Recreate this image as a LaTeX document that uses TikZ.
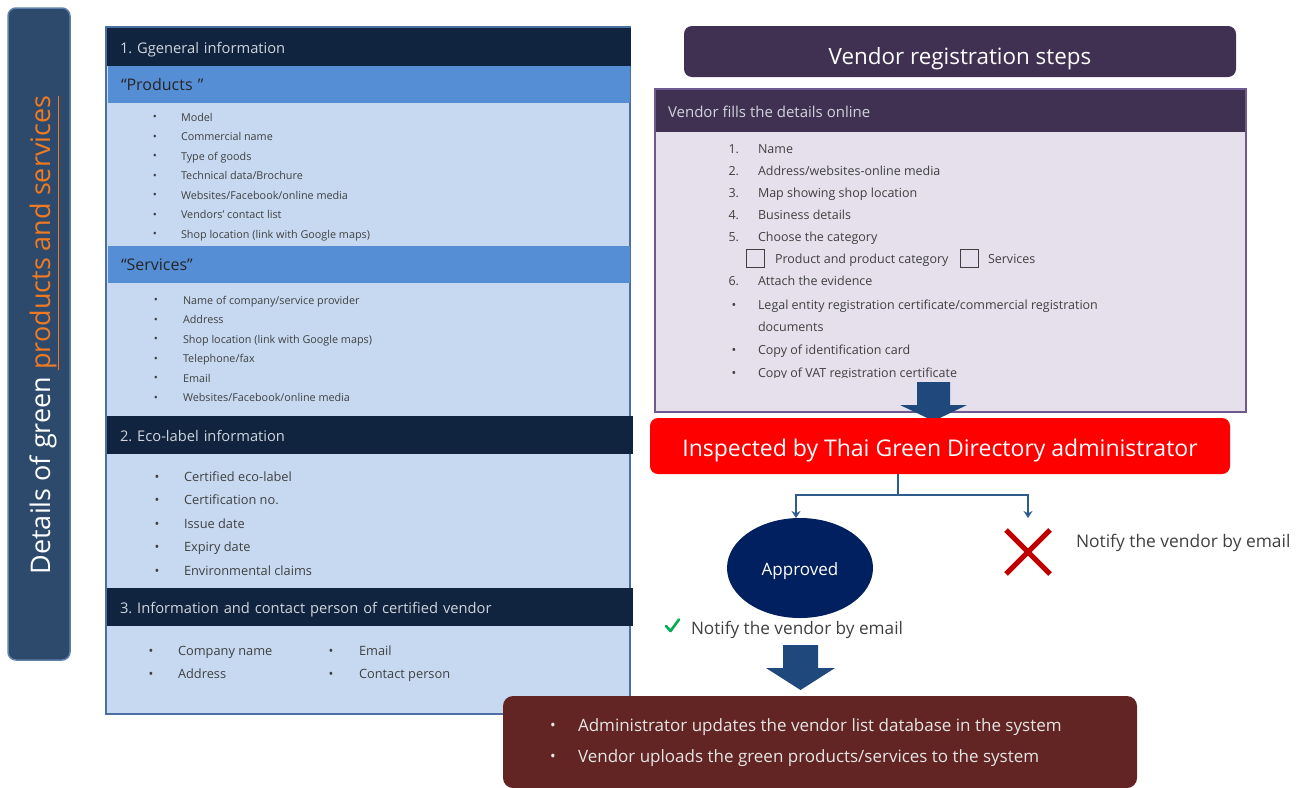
\documentclass[tikz,border=0pt]{standalone}
\usepackage{fontspec}
\setmainfont{Open Sans}
\usetikzlibrary{arrows.meta,shapes.geometric}
\definecolor{barblue}{HTML}{2D4A6D}
\definecolor{barborder}{HTML}{5F80A8}
\definecolor{orng}{HTML}{F07A22}
\definecolor{navy}{HTML}{10243F}
\definecolor{lightblue}{HTML}{C6D9F1}
\definecolor{bandblue}{HTML}{558ED5}
\definecolor{panelborder}{HTML}{4A6FA0}
\definecolor{purp}{HTML}{403152}
\definecolor{purpborder}{HTML}{6E5A90}
\definecolor{lavender}{HTML}{E5E0EC}
\definecolor{arrowblue}{HTML}{1F497D}
\definecolor{connblue}{HTML}{2E5C8C}
\definecolor{ellnavy}{HTML}{002060}
\definecolor{crossred}{HTML}{C00000}
\definecolor{maroon}{HTML}{632523}
\definecolor{checkgreen}{HTML}{00B050}
\definecolor{txtgray}{HTML}{404040}
\definecolor{hdrtxt}{HTML}{D0D4DC}
\newcommand{\fsz}[1]{\fontsize{#1pt}{#1pt}\selectfont}
\frenchspacing
\begin{document}
\begin{tikzpicture}[x=1pt,y=-1pt,
  every node/.style={inner sep=0pt, outer sep=0pt},
  hdrbar/.style={fill=navy, minimum height=38, text width=498, inner xsep=13, align=left, text=hdrtxt, font={\fsz{14.7}}, text height=13.6pt, text depth=0pt, anchor=north west},
  bandbar/.style={fill=bandblue, minimum height=37, text width=496, inner xsep=13, align=left, text=black!85, font={\fsz{16}}, text height=12.4pt, text depth=0pt, anchor=north west},
  bul/.style={text=txtgray, anchor=center},
  itemtxt/.style={text=txtgray, anchor=west, text height=1.5ex, text depth=.25ex},
  vitem/.style={text=txtgray, anchor=west, text height=1.5ex, text depth=.25ex, font={\fsz{12.5}}},
  vnum/.style={text=txtgray, anchor=east, text height=1.5ex, text depth=.25ex, font={\fsz{12.5}}},
  conn/.style={draw=connblue, line width=2.6pt, -{Stealth[length=7pt,width=9pt]}}
]
\useasboundingbox (0,0) rectangle (1303,787);

% ---------- left vertical bar ----------
\node[draw=barborder, line width=1.5pt, fill=barblue, rounded corners=8pt,
      minimum width=62, minimum height=652] (bar) at (39,334) {};
\node[rotate=90, text=white, font={\fsz{27}}] (bartext) at (44,335)
  {Details of green \textcolor{orng}{\underline{products and services}}};

% ---------- left panel ----------
\node[draw=panelborder, line width=2pt, fill=lightblue, minimum width=524,
      minimum height=687, anchor=north west] (panel) at (106,27) {};
\node[hdrbar] (h1) at (107,28) {1. Ggeneral information};
\node[bandbar] (b1) at (108,66) {“Products ”};
\foreach \t [count=\i from 0] in {Model,Commercial name,Type of goods,Technical data/Brochure,Websites/Facebook/online media,Vendors’ contact list,Shop location (link with Google maps)}{
  \node[bul, font={\fsz{10.8}}] (pb\i) at (155,118+\i*19.5) {\textbullet};
  \node[itemtxt, font={\fsz{10.8}}] (pt\i) at (181,118+\i*19.5) {\t};
}
\node[bandbar] (b2) at (108,246) {“Services”};
\foreach \t [count=\i from 0] in {Name of company/service provider,Address,Shop location (link with Google maps),Telephone/fax,Email,Websites/Facebook/online media}{
  \node[bul, font={\fsz{10.8}}] (sb\i) at (156,301+\i*19.5) {\textbullet};
  \node[itemtxt, font={\fsz{10.8}}] (st\i) at (183,301+\i*19.5) {\t};
}
\node[hdrbar, text width=500] (h2) at (107,416) {2. Eco-label information};
\foreach \t [count=\i from 0] in {Certified eco-label,Certification no.,Issue date,Expiry date,Environmental claims}{
  \node[bul, font={\fsz{12.8}}] (eb\i) at (157,478+\i*23.5) {\textbullet};
  \node[itemtxt, font={\fsz{12.8}}] (et\i) at (184,478+\i*23.5) {\t};
}
\node[hdrbar, text width=500] (h3) at (107,588) {3. Information and contact person of certified vendor};
\node[bul, font={\fsz{12.8}}] (cb0) at (151,652) {\textbullet};
\node[itemtxt, font={\fsz{12.8}}] (ct0) at (178,652) {Company name};
\node[bul, font={\fsz{12.8}}] (cb1) at (151,675) {\textbullet};
\node[itemtxt, font={\fsz{12.8}}] (ct1) at (178,675) {Address};
\node[bul, font={\fsz{12.8}}] (cb2) at (331,652) {\textbullet};
\node[itemtxt, font={\fsz{12.8}}] (ct2) at (359,652) {Email};
\node[bul, font={\fsz{12.8}}] (cb3) at (331,675) {\textbullet};
\node[itemtxt, font={\fsz{12.8}}] (ct3) at (359,675) {Contact person};

% ---------- right: title ----------
\node[fill=purp, rounded corners=8pt, minimum width=552, minimum height=51] (title) at (960,51.5) {};
\node[text=white, font={\fsz{22.4}}] (titletext) at (960,59) {Vendor registration steps};

% ---------- vendor fills box ----------
\node[draw=purpborder, line width=2pt, fill=lavender, minimum width=591,
      minimum height=323, anchor=north west] (vbox) at (655,89) {};
\node[fill=purp, minimum width=589, minimum height=42, anchor=north west] (vhdr) at (656,90) {};
\node[text=hdrtxt, anchor=west, font={\fsz{15}}] (vhdrtext) at (668,112) {Vendor fills the details online};
\foreach \t [count=\i] in {Name,Address/websites-online media,Map showing shop location,Business details,Choose the category}{
  \node[vnum] (vn\i) at (739,128+\i*22) {\i.};
  \node[vitem] (vt\i) at (758,128+\i*22) {\t};
}
\node[draw=black!75, line width=1pt, minimum size=18] (chk1) at (755,258) {};
\node[vitem] (chk1t) at (775,260) {Product and product category};
\node[draw=black!75, line width=1pt, minimum size=18] (chk2) at (969.5,258) {};
\node[vitem] (chk2t) at (988,260) {Services};
\node[vnum] (vn6) at (739,282) {6.};
\node[vitem] (vt6) at (758,282) {Attach the evidence};
\node[bul, font={\fsz{12.5}}] (vb1) at (734,306) {\textbullet};
\node[vitem] (vb1t) at (758,306) {Legal entity registration certificate/commercial registration};
\node[vitem] (vb1u) at (758,328) {documents};
\node[bul, font={\fsz{12.5}}] (vb2) at (734,351) {\textbullet};
\node[vitem] (vb2t) at (758,351) {Copy of identification card};
\begin{scope}
  \clip (656,360) rectangle (1245,377.5);
  \node[bul, font={\fsz{12.5}}] (vb3) at (734,374) {\textbullet};
  \node[vitem] (vb3t) at (758,374) {Copy of VAT registration certificate};
\end{scope}

% ---------- block arrow 1 ----------
\fill[arrowblue] (917,382) -- (950,382) -- (950,405) -- (967,405) -- (933.5,421)
  -- (900,405) -- (917,405) -- cycle;

% ---------- inspected box ----------
\node[fill=red, rounded corners=8pt, minimum width=580, minimum height=56] (insp) at (940,446) {};
\node[text=white, font={\fsz{23}}] (insptext) at (940,451) {Inspected by Thai Green Directory administrator};

% ---------- approved / rejected ----------
\node[ellipse, fill=ellnavy, minimum width=146, minimum height=100] (appr) at (800,568) {};
\node[text=white, font={\fsz{17}}] (apprlbl) at (800,571) {Approved};
\node[minimum width=44, minimum height=44] (rej) at (1028,552) {};
\draw[crossred, line width=5pt] (rej.north west) -- (rej.south east);
\draw[crossred, line width=5pt] (rej.north east) -- (rej.south west);
\coordinate (split) at (898,495);
\draw[draw=connblue, line width=2.6pt] (insp.south -| split) -- (split);
\draw[conn] (split) -| ([xshift=-4]appr.north);
\draw[conn, shorten >=12pt] (split) -| (rej.north);
\node[text=txtgray, anchor=west, font={\fsz{17.4}}] (rejtext) at (1076,543) {Notify the vendor by email};

\draw[checkgreen, line width=2.6pt, line cap=round, line join=round] (666,626) -- (670.5,631) -- (679,619.5);
\node[text=txtgray, anchor=west, font={\fsz{17.2}}] (apprtext) at (691,630) {Notify the vendor by email};

% ---------- block arrow 2 ----------
\fill[arrowblue] (783,645) -- (818,645) -- (818,668) -- (835,668) -- (800.5,690)
  -- (766,668) -- (783,668) -- cycle;

% ---------- bottom box ----------
\node[fill=maroon, rounded corners=10pt, minimum width=634, minimum height=92, anchor=north west] (final) at (503,696) {};
\node[text=white!90!black, anchor=center, font={\fsz{15}}] (fb1) at (553,727) {\textbullet};
\node[text=white!90!black, anchor=west, font={\fsz{17}}, text height=1.5ex, text depth=.25ex] (ft1) at (578,728) {Administrator updates the vendor list database in the system};
\node[text=white!90!black, anchor=center, font={\fsz{15}}] (fb2) at (553,758) {\textbullet};
\node[text=white!90!black, anchor=west, font={\fsz{17}}, text height=1.5ex, text depth=.25ex] (ft2) at (578,759) {Vendor uploads the green products/services to the system};
\end{tikzpicture}
\end{document}
